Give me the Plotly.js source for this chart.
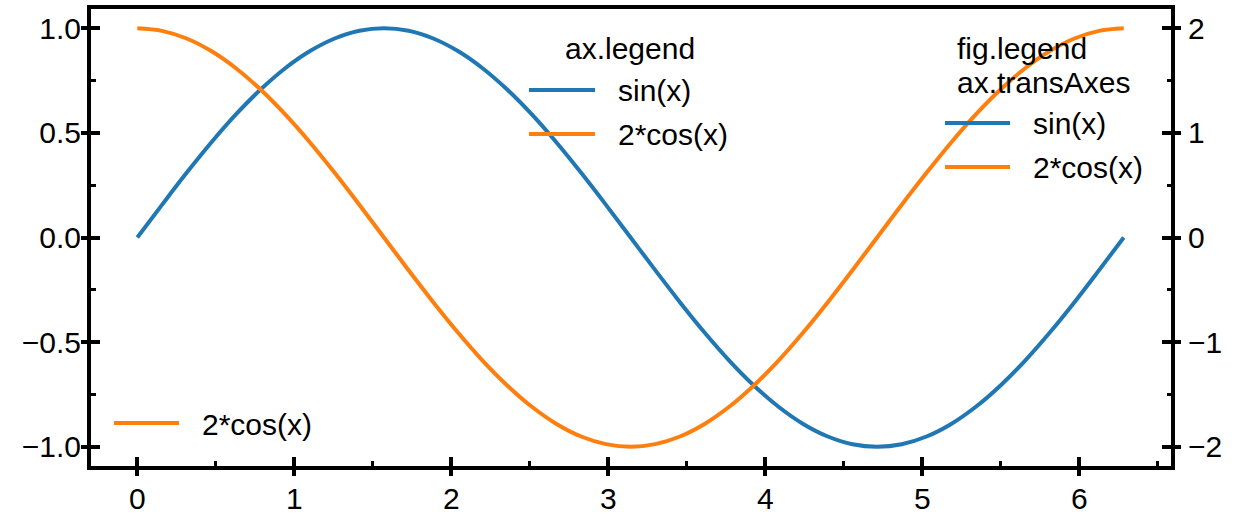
<!DOCTYPE html>
<html>
<head>
<meta charset="utf-8">
<script src="https://cdn.plot.ly/plotly-3.0.1.min.js"></script>
<style>
  html, body { margin: 0; padding: 0; background: #fff; }
  #chart { width: 1235px; height: 514px; }
</style>
</head>
<body>
<div id="chart"></div>
<script>
// Sample points along one full period, x in radians
const xValues = [0, 0.157, 0.314, 0.471, 0.628, 0.785, 0.942, 1.100, 1.257, 1.414,
  1.571, 1.728, 1.885, 2.042, 2.199, 2.356, 2.513, 2.670, 2.827, 2.985,
  3.142, 3.299, 3.456, 3.613, 3.770, 3.927, 4.084, 4.241, 4.398, 4.555,
  4.712, 4.869, 5.027, 5.184, 5.341, 5.498, 5.655, 5.812, 5.969, 6.126, 6.283];

// sin(x) on the left axis
const sinValues = [0, 0.156, 0.309, 0.454, 0.588, 0.707, 0.809, 0.891, 0.951, 0.988,
  1.000, 0.988, 0.951, 0.891, 0.809, 0.707, 0.588, 0.454, 0.309, 0.156,
  0, -0.156, -0.309, -0.454, -0.588, -0.707, -0.809, -0.891, -0.951, -0.988,
  -1.000, -0.988, -0.951, -0.891, -0.809, -0.707, -0.588, -0.454, -0.309, -0.156, 0];

// 2*cos(x) on the right axis
const cosValues = [2.000, 1.975, 1.902, 1.782, 1.618, 1.414, 1.176, 0.908, 0.618, 0.313,
  0, -0.313, -0.618, -0.908, -1.176, -1.414, -1.618, -1.782, -1.902, -1.975,
  -2.000, -1.975, -1.902, -1.782, -1.618, -1.414, -1.176, -0.908, -0.618, -0.313,
  0, 0.313, 0.618, 0.908, 1.176, 1.414, 1.618, 1.782, 1.902, 1.975, 2.000];

const seriesNames = ['sin(x)', '2*cos(x)'];
const legendTitles = ['ax.legend', 'fig.legend', 'ax.transAxes'];

const BLUE = '#1f77b4';
const ORANGE = '#ff7f0e';
const FONT = 'Liberation Sans, Arial, sans-serif';
const FS = 30;
const W = 1235, H = 514;
const M = { l: 91, r: 64, t: 9, b: 48 };
const xRange = [-0.295, 6.584];
const yLeftRange = [-1.092, 1.092];
const yRightRange = [-2.184, 2.184];

// pixel position in the figure -> paper coordinates
const pw = W - M.l - M.r, ph = H - M.t - M.b;
const px = v => (v - M.l) / pw;
const py = v => (H - M.b - v) / ph;

const traces = [
  { x: xValues, y: sinValues, xaxis: 'x', yaxis: 'y', mode: 'lines', name: seriesNames[0],
    line: { color: BLUE, width: 4, shape: 'spline' }, showlegend: false, hoverinfo: 'skip' },
  { x: xValues, y: cosValues, xaxis: 'x', yaxis: 'y2', mode: 'lines', name: seriesNames[1],
    line: { color: ORANGE, width: 4, shape: 'spline' }, showlegend: false, hoverinfo: 'skip' },
  // empty traces that attach the outer tick axes to subplots
  { x: [], y: [], xaxis: 'x2', yaxis: 'y3', mode: 'lines', showlegend: false, hoverinfo: 'skip' },
  { x: [], y: [], xaxis: 'x2', yaxis: 'y4', mode: 'lines', showlegend: false, hoverinfo: 'skip' }
];

const tickFont = { family: FONT, size: FS, color: '#000' };
const common = { showgrid: false, zeroline: false, tickcolor: '#000', fixedrange: true };

// Legend samples (line + label) drawn as paper-anchored shapes and annotations
function legendLine(x0, x1, y, color) {
  return { type: 'line', xref: 'paper', yref: 'paper', x0: px(x0), x1: px(x1), y0: py(y), y1: py(y),
    line: { color: color, width: 4 } };
}
function label(text, x, y, anchor) {
  return { text: text, xref: 'paper', yref: 'paper', x: px(x), y: py(y), xanchor: anchor || 'left',
    yanchor: 'middle', showarrow: false, font: { family: FONT, size: FS, color: '#000' } };
}

const shapes = [
  legendLine(529, 595, 90, BLUE),
  legendLine(529, 595, 134, ORANGE),
  legendLine(945, 1010, 123, BLUE),
  legendLine(945, 1010, 167, ORANGE),
  legendLine(114, 179, 423, ORANGE)
];

const annotations = [
  label(legendTitles[0], 630, 48, 'center'),
  label(seriesNames[0], 616, 91),
  label(seriesNames[1], 616, 135),
  label(legendTitles[1], 955, 48),
  label(legendTitles[2], 955, 82),
  label(seriesNames[0], 1031, 124),
  label(seriesNames[1], 1031, 168),
  label(seriesNames[1], 200, 424)
];

const layout = {
  width: W, height: H,
  margin: M,
  paper_bgcolor: '#fff', plot_bgcolor: 'rgba(0,0,0,0)',
  showlegend: false,
  // main axes: spines, labels and the inner half of each tick
  xaxis: Object.assign({}, common, {
    range: xRange, tick0: 0, dtick: 1, ticks: 'inside', ticklen: 9, tickwidth: 4,
    showline: true, linewidth: 4, linecolor: '#000', mirror: true,
    tickfont: tickFont, ticklabelstandoff: 3,
    minor: { ticks: 'inside', ticklen: 5, tickwidth: 3, dtick: 0.5, tickcolor: '#000' }
  }),
  yaxis: Object.assign({}, common, {
    range: yLeftRange, tick0: 0, dtick: 0.5, tickformat: '.1f', ticks: 'inside', ticklen: 9, tickwidth: 4,
    showline: true, linewidth: 4, linecolor: '#000',
    tickfont: tickFont, ticklabelstandoff: 0,
    minor: { ticks: 'inside', ticklen: 5, tickwidth: 3, dtick: 0.25, tickcolor: '#000' }
  }),
  yaxis2: Object.assign({}, common, {
    range: yRightRange, overlaying: 'y', side: 'right', tick0: 0, dtick: 1, ticks: 'inside', ticklen: 9, tickwidth: 4,
    showline: true, linewidth: 4, linecolor: '#000',
    tickfont: tickFont, ticklabelstandoff: 7,
    minor: { ticks: 'inside', ticklen: 4, tickwidth: 3, dtick: 0.5, tickcolor: '#000' }
  }),
  // outer halves of the major ticks
  xaxis2: Object.assign({}, common, {
    range: xRange, overlaying: 'x', side: 'bottom', tick0: 0, dtick: 1,
    ticks: 'outside', ticklen: 9, tickwidth: 4, showticklabels: false, showline: false
  }),
  yaxis3: Object.assign({}, common, {
    range: yLeftRange, overlaying: 'y', side: 'left', tick0: 0, dtick: 0.5,
    ticks: 'outside', ticklen: 9, tickwidth: 4, showticklabels: false
  }),
  yaxis4: Object.assign({}, common, {
    range: yRightRange, overlaying: 'y', side: 'right', tick0: 0, dtick: 1,
    ticks: 'outside', ticklen: 9, tickwidth: 4, showticklabels: false
  }),
  shapes: shapes,
  annotations: annotations
};

Plotly.newPlot('chart', traces, layout, { displayModeBar: false });
</script>
</body>
</html>
